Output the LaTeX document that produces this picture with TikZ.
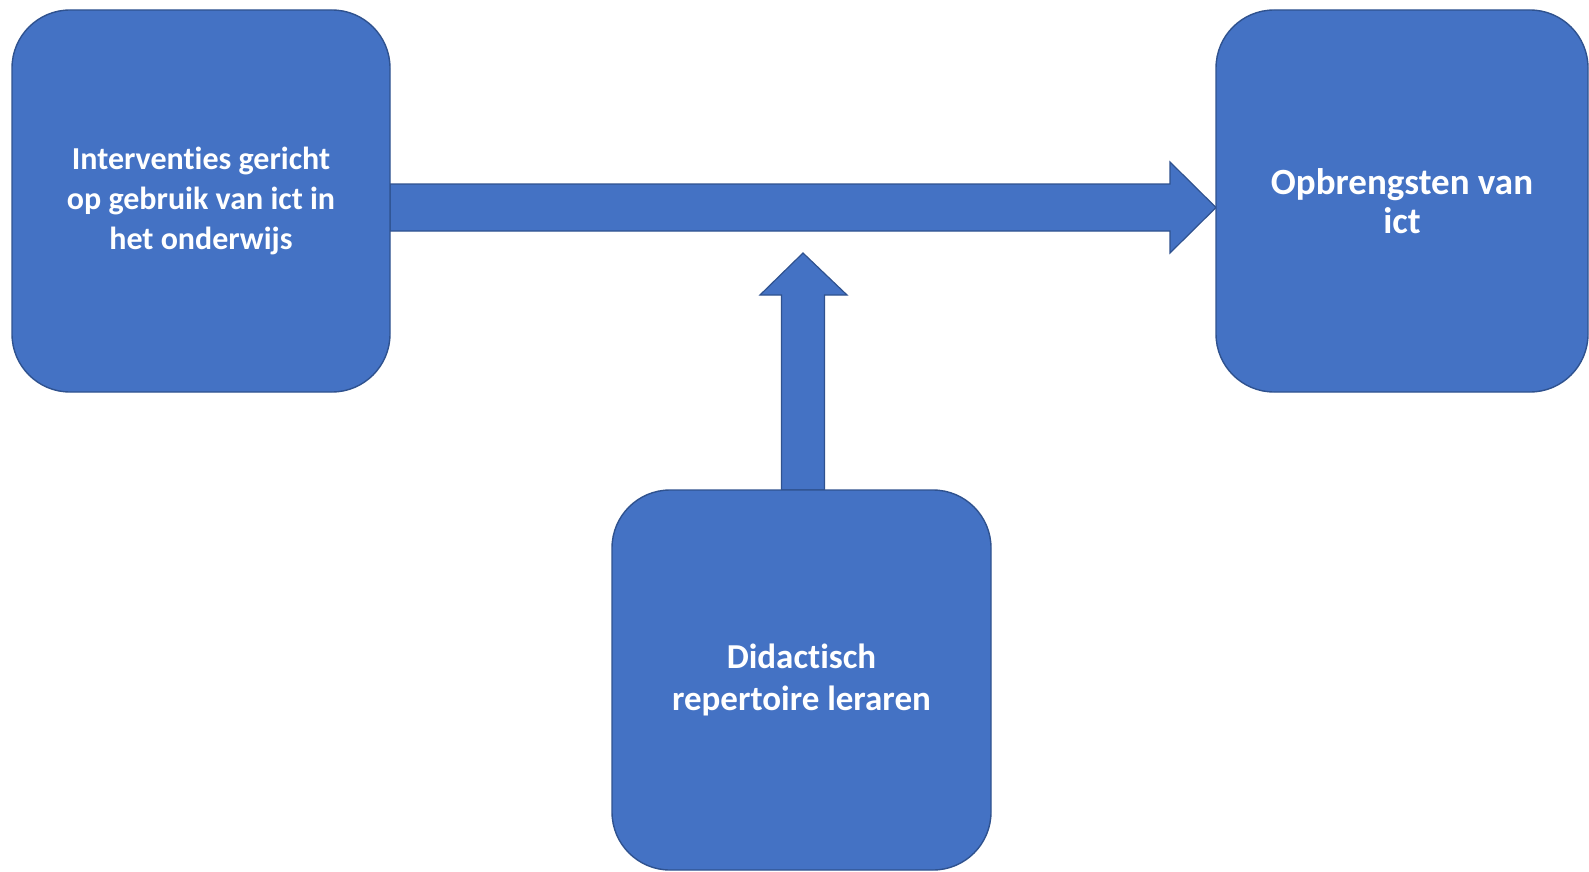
\documentclass[tikz,border=0pt]{standalone}
\usepackage{fontspec}
\setmainfont{Carlito}[RawFeature=-liga]
\usetikzlibrary{calc,backgrounds}
\definecolor{boxfill}{HTML}{4472C4}
\definecolor{boxline}{HTML}{2F528F}
\tikzset{
  blockbox/.style={draw=boxline, line width=1.4pt, fill=boxfill, rounded corners=58pt,
    text=white, align=center, inner sep=0pt, outer sep=0pt},
  blockarrow/.style={draw=boxline, line width=1.2pt, fill=boxfill, line join=miter}
}
\begin{document}
\begin{tikzpicture}[x=1pt,y=-1pt]
\useasboundingbox (0,0) rectangle (1589,872);
\node[blockbox, minimum width=378pt, minimum height=382pt,
  font=\bfseries\fontsize{32}{40}\selectfont] (a) at (201,201)
  {Interventies gericht\\ op gebruik van ict in\\ het onderwijs};
\node[blockbox, minimum width=372pt, minimum height=382pt,
  font=\bfseries\fontsize{37}{39}\selectfont] (b) at (1402,201)
  {Opbrengsten van\\ ict};
\node[blockbox, minimum width=379pt, minimum height=380pt,
  font=\bfseries\fontsize{35}{42}\selectfont] (c) at (801.5,680)
  {Didactisch\\ repertoire leraren};
\begin{pgfonlayer}{background}
\draw[blockarrow] ($(a.east)+(0,-17)$) -- ($(b.west)+(-46,-17)$) -- ($(b.west)+(-46,-39)$)
  -- ($(b.west)+(0,6.5)$) -- ($(b.west)+(-46,52)$) -- ($(b.west)+(-46,30)$)
  -- ($(a.east)+(0,30)$) -- cycle;
\draw[blockarrow] ($(c.north)+(-20,0)$) -- ($(c.north)+(-20,-195)$) -- ($(c.north)+(-41.5,-195)$)
  -- ($(c.north)+(1.5,-237)$) -- ($(c.north)+(45.5,-195)$) -- ($(c.north)+(23,-195)$)
  -- ($(c.north)+(23,0)$) -- cycle;
\end{pgfonlayer}
\end{tikzpicture}
\end{document}
